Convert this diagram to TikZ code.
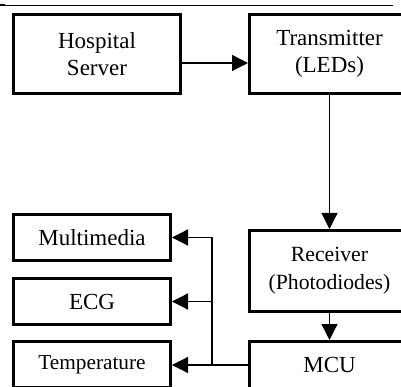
\documentclass[tikz,border=0pt]{standalone}
\usepackage{fontspec}
\setmainfont{Liberation Serif}
\usetikzlibrary{arrows.meta}

\tikzset{
  box/.style={draw, line width=3pt, rectangle, align=center, inner sep=2pt,
    font=\fontsize{23}{27.5}\selectfont},
  link/.style={line width=1.2pt, -{Triangle[length=16pt,width=16pt]}},
}

\begin{document}
\begin{tikzpicture}[x=1pt, y=-1pt]
  \clip (0,0) rectangle (401,387);
  \fill[white] (0,0) rectangle (401,387);

  % rule along the top edge
  \draw[line width=0.8pt] (0,5) -- (393,5);
  \draw[line width=2.5pt] (0,5) -- (5,5);

  % uplink side
  \node[box, minimum width=167pt, minimum height=79pt] (server) at (97,54) {Hospital\\Server};
  \node[box, minimum width=160pt, minimum height=79pt] (tx) at (329.5,54) {Transmitter\\(LEDs)};
  \node[box, minimum width=160pt, minimum height=81pt,
    font=\fontsize{21.7}{28}\selectfont] (rx) at (329.5,271) {Receiver\\(Photodiodes)};
  \node[box, minimum width=160pt, minimum height=47pt] (mcu) at (329.5,365) {MCU};

  % outputs of the MCU
  \node[box, minimum width=157pt, minimum height=46pt] (mm) at (92,237.5) {Multimedia};
  \node[box, minimum width=157pt, minimum height=46pt] (ecg) at (92,301.5) {ECG};
  \node[box, minimum width=157pt, minimum height=46pt,
    font=\fontsize{21.3}{25}\selectfont] (temp) at (92,364.5) {Temperature};

  % links
  \draw[link] ([yshift=-9pt]server.east) -- ([yshift=-9pt]tx.west);
  \draw[link] (tx.south) -- (rx.north);
  \draw[link] (rx.south) -- (mcu.north);
  \draw[link] (mcu.west) -- (mcu.west -| temp.east);
  \coordinate (bus) at (212,365);
  \draw[link] (bus) |- (mm.east);
  \draw[link] (bus) |- (ecg.east);
\end{tikzpicture}
\end{document}
